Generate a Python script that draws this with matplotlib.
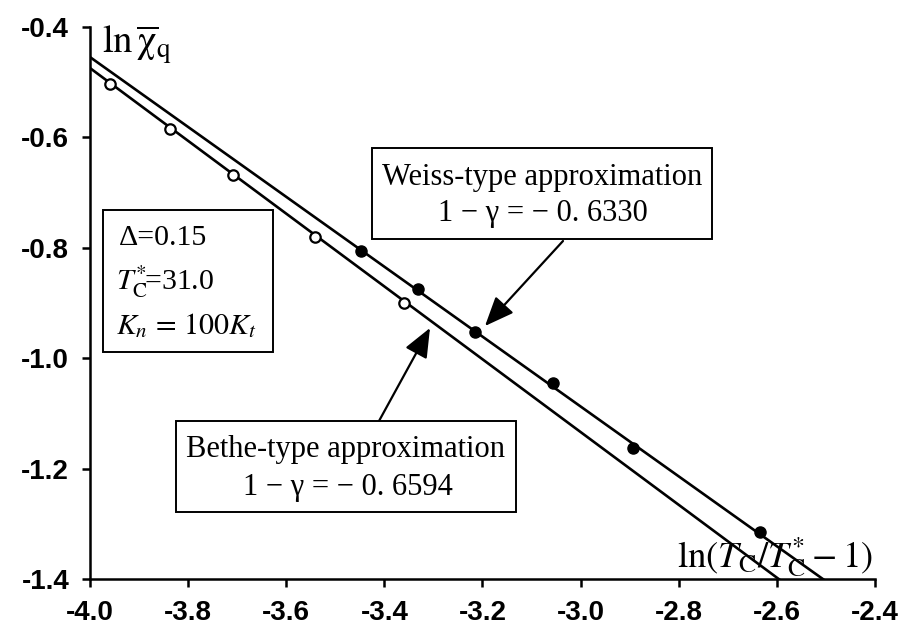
import matplotlib
matplotlib.use('Agg')
import matplotlib.pyplot as plt
from matplotlib.patches import Rectangle

# ---- data ----
bethe_x = [-3.959, -3.837, -3.708, -3.541, -3.359]
bethe_y = [-0.503, -0.584, -0.669, -0.780, -0.900]
weiss_x = [-3.448, -3.332, -3.216, -3.057, -2.893, -2.635]
weiss_y = [-0.806, -0.874, -0.953, -1.045, -1.163, -1.315]
weiss_slope = -0.6330
weiss_icpt = -2.9865
bethe_slope = -0.6594
bethe_icpt = -3.112
xticks = [-4.0, -3.8, -3.6, -3.4, -3.2, -3.0, -2.8, -2.6, -2.4]
yticks = [-1.4, -1.2, -1.0, -0.8, -0.6, -0.4]
xlim = (-4.0, -2.4)
ylim = (-1.4, -0.4)

plt.rcParams['mathtext.fontset'] = 'stix'
plt.rcParams['axes.unicode_minus'] = False

W, H = 904, 635
fig = plt.figure(figsize=(W / 100, H / 100), dpi=100)
ax = fig.add_axes([90 / W, 1 - 579 / H, 785 / W, 552 / H])

serif = ['Liberation Serif', 'DejaVu Serif']
sans = ['Liberation Sans', 'DejaVu Sans']

# fitted lines
lx = list(xlim)
ax.plot(lx, [weiss_slope * v + weiss_icpt for v in lx], color='black', lw=1.9, zorder=2)
ax.plot(lx, [bethe_slope * v + bethe_icpt for v in lx], color='black', lw=1.9, zorder=2)
ax.plot(weiss_x, weiss_y, 'o', color='black', ms=8, zorder=3)
ax.plot(bethe_x, bethe_y, 'o', mfc='white', mec='black', mew=1.6, ms=7.5, zorder=3)

ax.set_xlim(*xlim)
ax.set_ylim(*ylim)
ax.set_xticks(xticks)
ax.set_yticks(yticks)
ax.set_xticklabels(['%.1f' % v for v in xticks], fontfamily=sans, fontsize=20, fontweight='bold')
ax.set_yticklabels(['%.1f' % v for v in yticks], fontfamily=sans, fontsize=20, fontweight='bold')
for s in ['top', 'right']:
    ax.spines[s].set_visible(False)
for s in ['left', 'bottom']:
    ax.spines[s].set_linewidth(1.8)
ax.tick_params(axis='both', direction='out', length=6, width=1.8)
ax.tick_params(axis='x', pad=9)
ax.tick_params(axis='y', pad=9)


def fx(px):
    return px / W


def fy(py):
    return 1 - py / H


# axis labels
fig.text(fx(102), fy(54), r'$\mathrm{ln}\,\overline{\mathrm{\chi}}_\mathrm{q}$',
         fontsize=28, ha='left', va='baseline')
fig.text(fx(873), fy(567), r'$\mathrm{ln}(T_\mathrm{C}/T^{*}_\mathrm{C}-1)$',
         fontsize=26.5, ha='right', va='baseline')

# parameter box
fig.patches.append(Rectangle((fx(103), fy(352)), (273 - 103) / W, (352 - 210) / H,
                             transform=fig.transFigure, fill=True, facecolor='white',
                             edgecolor='black', lw=1.4, zorder=4))
fig.text(fx(119), fy(238), 'Δ=0.15', fontsize=21.5, family=serif, va='center', ha='left', zorder=5)
fig.text(fx(116), fy(282), r'$T^{*}_\mathrm{C}\!$=31.0', fontsize=21.5, family=serif,
         va='center', ha='left', zorder=5)
fig.text(fx(116), fy(326), r'$K_n\, =\, 100K_t$', fontsize=21.5, family=serif,
         va='center', ha='left', zorder=5)

# Weiss box
fig.patches.append(Rectangle((fx(372), fy(239)), (712 - 372) / W, (239 - 148) / H,
                             transform=fig.transFigure, facecolor='white',
                             edgecolor='black', lw=1.4, zorder=4))
fig.text(fx(542), fy(177), 'Weiss-type approximation', fontsize=22, family=serif,
         ha='center', va='center', zorder=5)
fig.text(fx(543), fy(213), '1 − γ = − 0. 6330', fontsize=22, family=serif,
         ha='center', va='center', zorder=5)

# Bethe box
fig.patches.append(Rectangle((fx(176), fy(512)), (516 - 176) / W, (512 - 421) / H,
                             transform=fig.transFigure, facecolor='white',
                             edgecolor='black', lw=1.4, zorder=4))
fig.text(fx(346), fy(450), 'Bethe-type approximation', fontsize=22, family=serif,
         ha='center', va='center', zorder=5)
fig.text(fx(348), fy(488), '1 − γ = − 0. 6594', fontsize=22, family=serif,
         ha='center', va='center', zorder=5)

# arrows
ap = dict(arrowstyle='-|>,head_length=0.6,head_width=0.25', mutation_scale=30, lw=1.6,
          color='black', shrinkA=0, shrinkB=0)
ax.annotate('', xy=(fx(485), fy(326)), xycoords='figure fraction',
            xytext=(fx(563), fy(241)), textcoords='figure fraction', arrowprops=ap)
ax.annotate('', xy=(fx(430), fy(328)), xycoords='figure fraction',
            xytext=(fx(379), fy(421)), textcoords='figure fraction', arrowprops=ap)

fig.savefig('out.png', dpi=100)
